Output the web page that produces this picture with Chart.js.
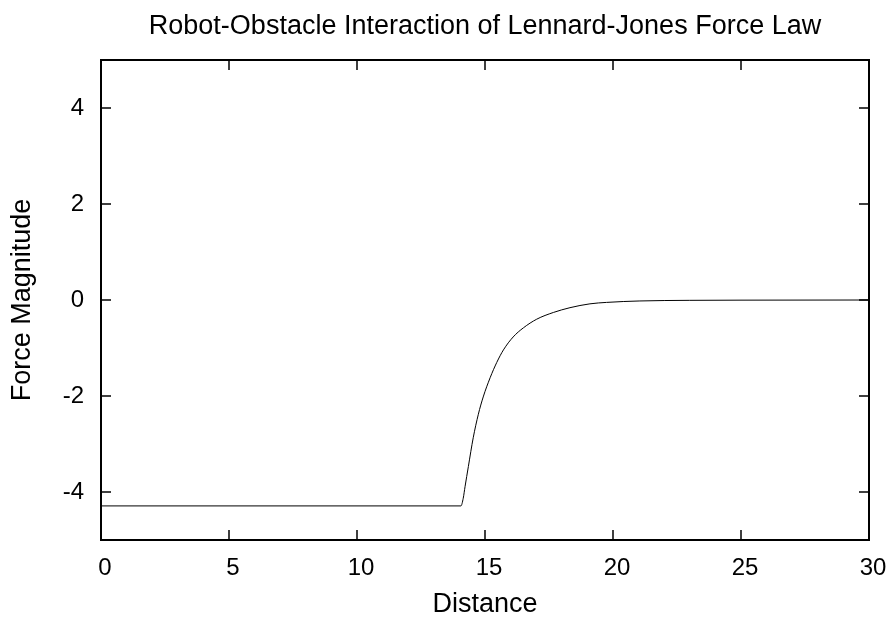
<!DOCTYPE html>
<html>
<head>
<meta charset="utf-8">
<script src="https://cdn.jsdelivr.net/npm/chart.js@4/dist/chart.umd.min.js"></script>
<style>
  html, body { margin: 0; padding: 0; background: #fff; }
  #wrap { width: 893px; height: 621px; }
</style>
</head>
<body>
<div id="wrap"><canvas id="chart" width="893" height="621"></canvas></div>
<script>
// Robot-obstacle force versus distance (capped near the obstacle, decaying to zero)
const distance = [0, 14.06, 14.15, 14.22, 14.35, 14.54, 14.74, 14.93, 15.2, 15.46, 15.72,
                  16.1, 16.5, 17.02, 17.67, 18.32, 19.1, 19.75, 21.05, 23.0, 25.0, 30.0];
const force = [-4.29, -4.29, -4.13, -3.89, -3.47, -2.87, -2.38, -2.02, -1.62, -1.30, -1.04,
               -0.77, -0.58, -0.40, -0.26, -0.16, -0.08, -0.05, -0.02, -0.007, -0.003, 0];

const xTickValues = [0, 5, 10, 15, 20, 25, 30];
const yTickValues = [-4, -2, 0, 2, 4];

const FONT = "'Liberation Sans', Arial, Helvetica, sans-serif";
const LABEL_SIZE = 24;
const TITLE_SIZE = 27;

// Frame with inward tick marks on all four sides (gnuplot style)
const framePlugin = {
  id: 'frame',
  afterDatasetsDraw(chart) {
    const { ctx, chartArea: a, scales } = chart;
    const tick = 10;
    ctx.save();
    ctx.strokeStyle = '#000';
    ctx.lineWidth = 1.5;
    ctx.beginPath();
    scales.x.ticks.forEach(t => {
      const px = scales.x.getPixelForValue(t.value);
      ctx.moveTo(px, a.bottom); ctx.lineTo(px, a.bottom - tick);
      ctx.moveTo(px, a.top); ctx.lineTo(px, a.top + tick);
    });
    scales.y.ticks.forEach(t => {
      const py = scales.y.getPixelForValue(t.value);
      ctx.moveTo(a.left, py); ctx.lineTo(a.left + tick, py);
      ctx.moveTo(a.right, py); ctx.lineTo(a.right - tick, py);
    });
    ctx.stroke();
    ctx.lineWidth = 2;
    ctx.strokeRect(a.left, a.top, a.right - a.left, a.bottom - a.top);
    ctx.restore();
  }
};

new Chart(document.getElementById('chart'), {
  type: 'line',
  data: {
    datasets: [{
      data: distance.map((d, i) => ({ x: d, y: force[i] })),
      borderColor: '#000',
      borderWidth: 1,
      pointRadius: 0,
      fill: false,
      cubicInterpolationMode: 'monotone'
    }]
  },
  options: {
    responsive: false,
    animation: false,
    layout: { padding: { left: 0, right: 24, top: 0, bottom: 0 } },
    plugins: {
      legend: { display: false },
      tooltip: { enabled: false },
      title: {
        display: true,
        fullSize: false,
        text: 'Robot-Obstacle Interaction of Lennard-Jones Force Law',
        color: '#000',
        font: { family: FONT, size: TITLE_SIZE, weight: 'normal', lineHeight: 1.2 },
        padding: { top: 10.8, bottom: 16.8 }
      }
    },
    scales: {
      x: {
        type: 'linear',
        min: 0, max: 30,
        afterBuildTicks: s => { s.ticks = xTickValues.map(v => ({ value: v })); },
        afterFit: s => { s.height = 81; s.paddingLeft = 0; s.paddingRight = 0; },
        grid: { display: false, drawTicks: false },
        border: { display: false },
        ticks: { color: '#000', padding: 14, labelOffset: 4, font: { family: FONT, size: LABEL_SIZE }, maxRotation: 0 },
        title: {
          display: true, text: 'Distance', color: '#000',
          font: { family: FONT, size: TITLE_SIZE, lineHeight: 1.2 },
          padding: { top: 0, bottom: 0 }
        }
      },
      y: {
        type: 'linear',
        min: -5, max: 5,
        afterBuildTicks: s => { s.ticks = yTickValues.map(v => ({ value: v })); },
        afterFit: s => { s.width = 101; },
        grid: { display: false, drawTicks: false },
        border: { display: false },
        ticks: { color: '#000', padding: 17, font: { family: FONT, size: LABEL_SIZE } },
        title: {
          display: true, text: 'Force Magnitude', color: '#000',
          font: { family: FONT, size: TITLE_SIZE, lineHeight: 1.2 },
          padding: { top: 6, bottom: 0 }
        }
      }
    }
  },
  plugins: [framePlugin]
});
</script>
</body>
</html>
